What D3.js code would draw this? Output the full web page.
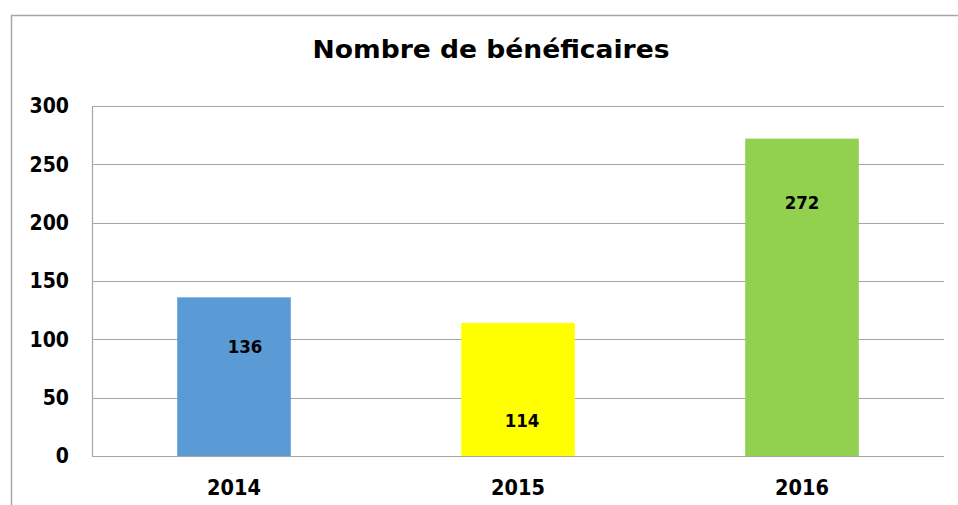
<!DOCTYPE html>
<html>
<head>
<meta charset="utf-8">
<script src="https://cdn.jsdelivr.net/npm/d3@7"></script>
<style>
  html, body { margin: 0; padding: 0; background: #fff; }
  svg text { font-family: "DejaVu Sans Condensed", "DejaVu Sans", sans-serif; font-weight: bold; fill: #000; }
</style>
</head>
<body>
<svg id="chart"></svg>
<script>
const title = "Nombre de bénéficaires"
const years = ["2014", "2015", "2016"]
const beneficiaires = [136, 114, 272]
const barColors = ["#5B9BD5", "#FFFF00", "#92D050"]
const yTicks = [0, 50, 100, 150, 200, 250, 300]

const W = 958, H = 505
const svg = d3.select("#chart").attr("width", W).attr("height", H)

// chart frame (runs off right and bottom edge)
svg.append("rect")
  .attr("x", 11.5).attr("y", 15.5).attr("width", 980).attr("height", 520)
  .attr("fill", "#fff").attr("stroke", "#a6a6a6").attr("stroke-width", 1.5)

const m = { left: 92, right: 944, top: 106, bottom: 456 }

const x = d3.scaleBand().domain(years).range([m.left, m.right]).paddingInner(0.6).paddingOuter(0.3)
const y = d3.scaleLinear().domain([0, 300]).range([m.bottom, m.top])

svg.append("text")
  .attr("x", 491).attr("y", 58)
  .attr("text-anchor", "middle")
  .style("font-family", "'DejaVu Sans', sans-serif")
  .style("font-size", "24px")
  .attr("textLength", 357).attr("lengthAdjust", "spacingAndGlyphs")
  .text(title)

// gridlines
svg.append("g").selectAll("line")
  .data(yTicks).enter().append("line")
  .attr("x1", m.left).attr("x2", m.right)
  .attr("y1", d => Math.round(y(d)) + 0.5).attr("y2", d => Math.round(y(d)) + 0.5)
  .attr("stroke", "#a6a6a6").attr("stroke-width", 1.2)

// y axis
const yAxis = svg.append("g")
  .attr("transform", `translate(${m.left},0)`)
  .call(d3.axisLeft(y).tickValues(yTicks).tickSize(0).tickPadding(23))
yAxis.select(".domain").attr("stroke", "#a6a6a6").attr("stroke-width", 1.2)
yAxis.selectAll("text").style("font-size", "21px").attr("fill", "#000")

// bars
svg.append("g").selectAll("rect")
  .data(beneficiaires).enter().append("rect")
  .attr("x", (d, i) => x(years[i]))
  .attr("width", x.bandwidth())
  .attr("y", d => y(d))
  .attr("height", d => y(0) - y(d))
  .attr("fill", (d, i) => barColors[i])

// x labels
svg.append("g").selectAll("text")
  .data(years).enter().append("text")
  .attr("x", d => x(d) + x.bandwidth() / 2)
  .attr("y", 495)
  .attr("text-anchor", "middle")
  .style("font-size", "21.5px")
  .text(d => d)

// value labels, placed inside the bars as in the original (value units)
const labelAt = [88, 25, 212]
const labelShift = [11, 4, 0]
svg.append("g").selectAll("text")
  .data(beneficiaires).enter().append("text")
  .attr("x", (d, i) => x(years[i]) + x.bandwidth() / 2 + labelShift[i])
  .attr("y", (d, i) => y(labelAt[i]))
  .attr("text-anchor", "middle")
  .style("font-size", "18.5px")
  .text(d => d)
</script>
</body>
</html>
